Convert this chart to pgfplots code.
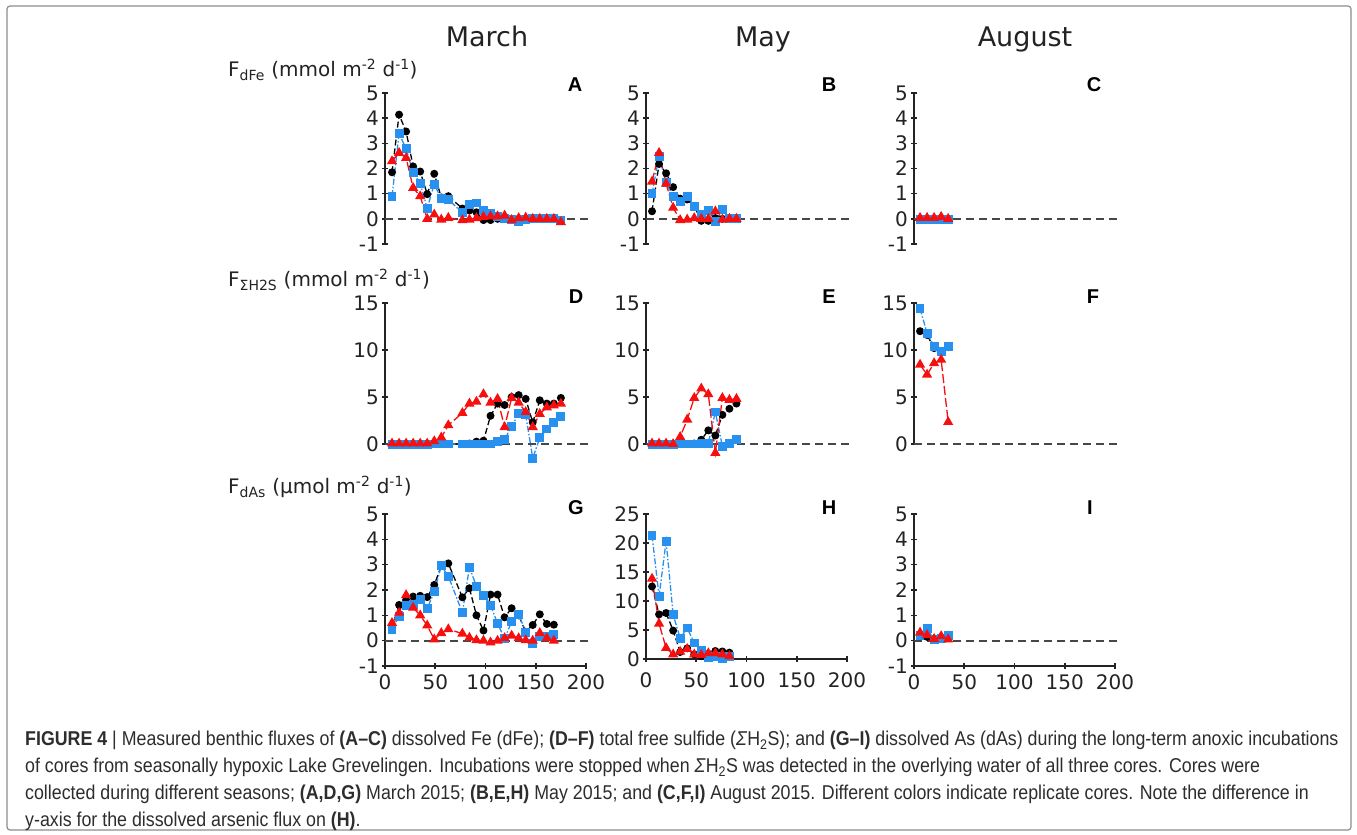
\documentclass[border=0pt]{standalone}
\usepackage{pgfplots}
\pgfplotsset{compat=1.18}
\usepackage{pgfplotstable}
\usepackage{fontspec}
\setmainfont{DejaVu Sans}
\newfontfamily\capfont[FakeStretch=0.89]{Liberation Sans}
\newfontfamily\arial{Liberation Sans}
\definecolor{myblue}{RGB}{40,145,240}
\definecolor{myred}{RGB}{245,15,15}
\definecolor{axgray}{RGB}{35,35,35}
\definecolor{capgray}{RGB}{45,45,45}

\pgfplotstableread{
x k b r
7 1.85 0.90 2.29
14 4.14 3.39 2.62
21 3.47 2.78 2.42
28 2.08 1.83 1.23
35 1.88 1.40 0.90
42 0.98 0.42 0.00
49 1.79 1.38 0.17
56 0.85 0.79 -0.03
63 0.90 0.77 0.04
77 0.41 0.24 -0.05
84 0.33 0.58 -0.03
91 0.26 0.63 0.03
98 -0.05 0.34 0.08
105 -0.05 0.21 0.10
112 0.00 0.08 0.10
119 0.00 0.01 0.13
126 0.00 -0.03 -0.05
133 0.00 -0.10 0.03
140 0.00 -0.03 0.05
147 0.00 0.00 0.00
154 0.00 0.00 0.00
161 0.00 0.00 0.00
168 0.00 0.00 0.00
175 -0.05 -0.05 -0.13
}\tabA

\pgfplotstableread{
x k b r
6 0.30 1.00 1.48
13 2.18 2.49 2.62
20 1.81 1.43 1.40
27 1.26 0.90 0.44
34 0.80 0.70 -0.05
41 0.77 0.90 -0.03
48 0.50 0.50 0.03
55 -0.08 0.17 0.00
62 -0.08 0.34 0.00
69 0.03 -0.10 0.30
76 0.00 0.37 -0.03
83 0.00 0.00 0.00
90 0.00 0.00 0.00
}\tabB

\pgfplotstableread{
x k b r
6 0.00 -0.03 0.04
13 0.00 -0.03 0.04
20 0.00 -0.03 0.04
27 0.00 -0.02 0.08
34 0.00 -0.03 0.00
}\tabC

\pgfplotstableread{
x k b r
7 0.00 -0.05 0.05
14 0.00 -0.05 0.05
21 0.00 -0.05 0.05
28 0.00 -0.05 0.05
35 0.00 -0.05 0.05
42 0.00 -0.05 0.05
49 0.00 0.00 0.30
56 0.00 0.00 0.70
63 0.00 0.00 2.00
77 0.00 0.00 3.30
84 0.05 0.00 4.30
91 0.25 0.00 4.50
98 0.35 0.00 5.30
105 3.00 0.00 4.40
112 4.30 0.30 4.80
119 4.15 0.45 1.80
126 5.00 1.90 4.90
133 5.20 3.20 4.40
140 4.80 3.10 3.40
147 2.30 -1.50 1.80
154 4.65 0.65 3.20
161 4.30 1.60 3.90
168 4.30 2.25 4.10
175 4.90 2.95 4.30
}\tabD

\pgfplotstableread{
x k b r
6 0.00 -0.05 0.05
13 0.00 -0.05 0.05
20 0.00 -0.05 0.05
27 0.00 -0.05 0.00
34 0.00 0.00 0.75
41 0.00 0.00 2.60
48 0.05 0.00 4.90
55 0.45 0.10 5.90
62 1.45 0.10 5.30
69 0.90 3.40 -0.95
76 3.10 -0.25 4.90
83 3.75 0.10 4.70
90 4.30 0.45 4.80
}\tabE

\pgfplotstableread{
x k b r
6 12.00 14.40 8.44
13 11.60 11.80 7.38
20 10.20 10.40 8.60
27 9.80 9.86 8.97
34 10.30 10.35 2.34
}\tabF

\pgfplotstableread{
x k b r
7 0.55 0.45 0.70
14 1.41 0.97 1.10
21 1.61 1.38 1.80
28 1.74 1.42 1.30
35 1.77 1.62 1.00
42 1.72 1.27 0.60
49 2.20 1.93 0.05
56 2.95 2.95 0.30
63 3.05 2.55 0.45
77 1.71 1.10 0.28
84 2.07 2.90 0.12
91 1.00 2.15 0.02
98 0.40 1.80 0.00
105 1.82 1.40 -0.07
112 1.82 0.68 0.00
119 0.92 0.08 0.10
126 1.28 0.75 0.20
133 1.00 1.05 0.10
140 0.35 0.33 0.02
147 0.62 -0.10 0.00
154 1.04 0.18 0.30
161 0.66 0.15 0.10
168 0.63 0.24 0.00
}\tabG

\pgfplotstableread{
x k b r
6 12.50 21.30 13.85
13 7.70 10.80 6.10
20 7.93 20.30 1.90
27 4.90 7.64 0.80
34 1.20 3.60 1.26
41 1.84 5.34 1.72
48 0.80 2.76 0.80
55 0.50 1.50 0.70
62 0.90 0.30 1.00
69 1.38 0.50 1.00
76 1.30 0.00 0.80
83 1.10 0.40 0.50
}\tabH

\pgfplotstableread{
x k b r
6 0.18 0.20 0.32
13 0.15 0.48 0.22
20 0.05 0.05 0.07
27 0.10 0.10 0.18
34 0.10 0.22 0.05
}\tabI

\pgfplotsset{
  every non boxed x axis/.append style={x axis line style={-}},
  every non boxed y axis/.append style={y axis line style={-}},
  panel/.style={
    scale only axis, width=201pt, clip=false,
    xmin=0, xmax=200,
    axis line style={line width=1.6pt, draw=axgray},
    tick style={line width=1.6pt, color=axgray},
    major tick length=6pt, tick align=outside,
    ticklabel style={font={\fontsize{20}{20}\selectfont}, text=axgray},
    yticklabel style={inner sep=1pt, xshift=-2pt},
    xticklabel style={inner sep=1pt, yshift=-4pt},
  },
  toprow/.style={panel, height=151pt, ymin=-1, ymax=5,
    ytick={-1,0,1,2,3,4,5}, yticklabels={-1,0,1,2,3,4,5},
    axis y line=left, axis x line=none, xtick=\empty},
  midrow/.style={panel, height=141pt, ymin=0, ymax=15,
    ytick={0,5,10,15}, yticklabels={0,5,10,15},
    axis y line=left, axis x line=none, xtick=\empty},
  botrow/.style={panel, height=152pt, ymin=-1, ymax=5,
    ytick={-1,0,1,2,3,4,5}, yticklabels={-1,0,1,2,3,4,5},
    axis lines=left, xtick={0,50,100,150,200}, xticklabels={0,50,100,150,200}},
  zeroline/.style={color=black!72, line width=1.8pt, dash pattern=on 8pt off 5pt, forget plot},
  blk/.style={black, line width=1.3pt, dash pattern=on 6pt off 3pt,
    mark=*, mark size=3.3pt, mark options={solid, fill=black}},
  blu/.style={myblue, line width=1.3pt, dash pattern=on 6pt off 2pt on 1.5pt off 2pt,
    mark=square*, mark size=3.8pt, mark options={solid, fill=myblue, draw=myblue}},
  rd/.style={myred, line width=1.3pt, dash pattern=on 9pt off 3pt,
    mark=triangle*, mark size=4.6pt, mark options={solid, fill=myred, draw=myred}},
}

\newcommand\three[1]{%
  \addplot[blk] table[x=x,y=k]{#1};
  \addplot[blu] table[x=x,y=b]{#1};
  \addplot[rd] table[x=x,y=r]{#1};
}

\begin{document}
\begin{tikzpicture}[x=1pt,y=1pt]
\fill[white] (0,0) rectangle (1357,835);
\draw[black!45, line width=1.2pt, rounded corners=3pt] (7,5) rectangle (1351,829);

% column titles
\node[anchor=base, font={\fontsize{27}{27}\selectfont}, text=axgray] at (487,788) {March};
\node[anchor=base, font={\fontsize{27}{27}\selectfont}, text=axgray] at (763,788) {May};
\node[anchor=base, font={\fontsize{27}{27}\selectfont}, text=axgray] at (1025,788) {August};

% row labels
\node[anchor=base west, inner sep=0pt, font={\fontsize{20}{20}\selectfont}, text=axgray] at (228,758)
  {F\textsubscript{dFe} (mmol m\textsuperscript{-2} d\textsuperscript{-1})};
\node[anchor=base west, inner sep=0pt, font={\fontsize{20}{20}\selectfont}, text=axgray] at (228,548)
  {F\textsubscript{ΣH2S} (mmol m\textsuperscript{-2} d\textsuperscript{-1})};
\node[anchor=base west, inner sep=0pt, font={\fontsize{20}{20}\selectfont}, text=axgray] at (228,341)
  {F\textsubscript{dAs} (µmol m\textsuperscript{-2} d\textsuperscript{-1})};

% panel letters
\foreach \L/\X/\Y in {A/575/750, B/829/750, C/1094/750, D/576/538, E/829/538, F/1093/538, G/576/327, H/829/327, I/1090/327}
  \node[font={\arial\bfseries\fontsize{20}{20}\selectfont}] at (\X,\Y) {\L};

% Row 1
\begin{axis}[toprow, at={(385pt,591pt)}, anchor=south west]
  \addplot[zeroline] coordinates {(0,0) (206,0)};
  \three{\tabA}
\end{axis}
\begin{axis}[toprow, at={(646pt,591pt)}, anchor=south west]
  \addplot[zeroline] coordinates {(0,0) (206,0)};
  \three{\tabB}
\end{axis}
\begin{axis}[toprow, at={(914pt,591pt)}, anchor=south west]
  \addplot[zeroline] coordinates {(0,0) (206,0)};
  \three{\tabC}
\end{axis}

% Row 2
\begin{axis}[midrow, at={(385pt,391pt)}, anchor=south west]
  \addplot[zeroline] coordinates {(0,0) (206,0)};
  \three{\tabD}
\end{axis}
\begin{axis}[midrow, at={(646pt,391pt)}, anchor=south west]
  \addplot[zeroline] coordinates {(0,0) (206,0)};
  \three{\tabE}
\end{axis}
\begin{axis}[midrow, at={(914pt,391pt)}, anchor=south west]
  \addplot[zeroline] coordinates {(0,0) (206,0)};
  \three{\tabF}
\end{axis}

% Row 3
\begin{axis}[botrow, at={(385pt,169pt)}, anchor=south west]
  \addplot[zeroline] coordinates {(0,0) (206,0)};
  \three{\tabG}
\end{axis}
\begin{axis}[panel, height=145pt, ymin=0, ymax=25,
    ytick={0,5,10,15,20,25}, yticklabels={0,5,10,15,20,25},
    axis lines=left, xtick={0,50,100,150,200}, xticklabels={0,50,100,150,200},
    xticklabel style={yshift=-5pt},
    at={(646pt,176pt)}, anchor=south west]
  \three{\tabH}
\end{axis}
\begin{axis}[botrow, at={(914pt,169pt)}, anchor=south west]
  \addplot[zeroline] coordinates {(0,0) (206,0)};
  \three{\tabI}
\end{axis}

% caption
\begin{scope}[every node/.style={anchor=base west, inner sep=0pt, text=capgray, font={\capfont\fontsize{20}{20}\selectfont}}]
\node at (25,89) {{\bfseries FIGURE 4} | Measured benthic fluxes of {\bfseries (A–C)} dissolved Fe (dFe); {\bfseries (D–F)} total free sulfide (\textit{Σ}H\textsubscript{2}S); and {\bfseries (G–I)} dissolved As (dAs) during the long-term anoxic incubations};
\node at (25,62) {of cores from seasonally hypoxic Lake Grevelingen. Incubations were stopped when \textit{Σ}H\textsubscript{2}S was detected in the overlying water of all three cores. Cores were};
\node at (25,35) {collected during different seasons; {\bfseries (A,D,G)} March 2015; {\bfseries (B,E,H)} May 2015; and {\bfseries (C,F,I)} August 2015. Different colors indicate replicate cores. Note the difference in};
\node at (25,8) {y-axis for the dissolved arsenic flux on {\bfseries (H)}.};
\end{scope}
\pgfresetboundingbox
\path[use as bounding box] (0,0) rectangle (1357,835);
\end{tikzpicture}
\end{document}
